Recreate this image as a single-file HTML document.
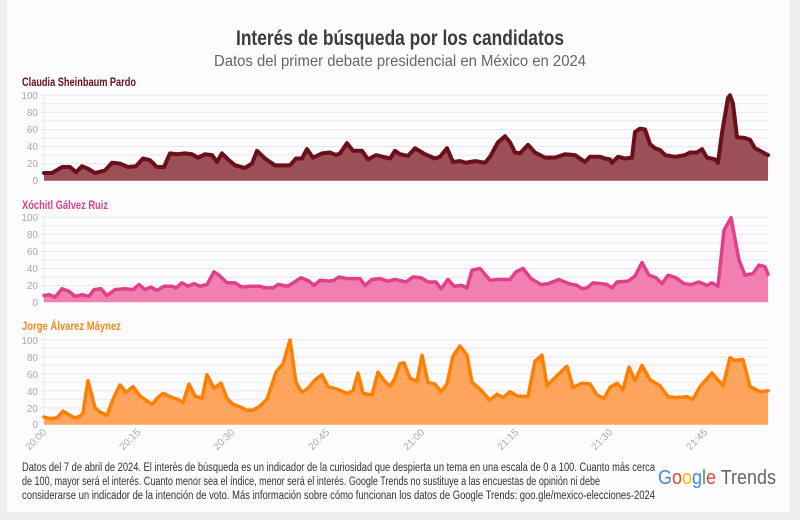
<!DOCTYPE html>
<html><head><meta charset="utf-8"><style>
html,body{margin:0;padding:0;background:#efeef0;}
svg{display:block;font-family:"Liberation Sans Narrow","Liberation Sans",sans-serif;}
</style></head><body>
<svg width="800" height="520" viewBox="0 0 800 520" xmlns="http://www.w3.org/2000/svg">
<rect x="0" y="0" width="800" height="520" fill="#efeef0"/>
<rect x="7" y="0" width="783" height="512" fill="#fcfbfd"/>
<text x="400" y="45" text-anchor="middle" font-size="21" font-weight="bold" fill="#3c3c3c" textLength="328" lengthAdjust="spacingAndGlyphs">Interés de búsqueda por los candidatos</text>
<text x="400" y="66" text-anchor="middle" font-size="16" fill="#666" textLength="372" lengthAdjust="spacingAndGlyphs">Datos del primer debate presidencial en México en 2024</text>

<text x="22" y="86" font-size="11.5" font-weight="bold" fill="#6b0f1a" textLength="114" lengthAdjust="spacingAndGlyphs">Claudia Sheinbaum Pardo</text>
<text x="22" y="209" font-size="11.5" font-weight="bold" fill="#e0408a" textLength="86" lengthAdjust="spacingAndGlyphs">Xóchitl Gálvez Ruiz</text>
<text x="22" y="330" font-size="11.5" font-weight="bold" fill="#f28a1e" textLength="99" lengthAdjust="spacingAndGlyphs">Jorge Álvarez Máynez</text>

<g id="grids" stroke="#e9e7ec" stroke-width="1">
<g id="g1">
<line x1="40" x2="768" y1="95.3" y2="95.3"/><line x1="40" x2="768" y1="103.8" y2="103.8"/><line x1="40" x2="768" y1="112.4" y2="112.4"/><line x1="40" x2="768" y1="120.9" y2="120.9"/><line x1="40" x2="768" y1="129.5" y2="129.5"/><line x1="40" x2="768" y1="138" y2="138"/><line x1="40" x2="768" y1="146.5" y2="146.5"/><line x1="40" x2="768" y1="155.1" y2="155.1"/><line x1="40" x2="768" y1="163.6" y2="163.6"/><line x1="40" x2="768" y1="172.2" y2="172.2"/>
</g>
<use href="#g1" y="122"/>
<use href="#g1" y="244.3"/>
<line x1="44" x2="44" y1="94" y2="181" />
<line x1="44" x2="44" y1="216" y2="303" />
<line x1="44" x2="44" y1="338" y2="425" />
</g>

<g font-size="10" fill="#aaa" text-anchor="end">
<text x="38" y="99">100</text><text x="38" y="116">80</text><text x="38" y="133">60</text><text x="38" y="150">40</text><text x="38" y="167">20</text><text x="38" y="184">0</text>
<text x="38" y="221">100</text><text x="38" y="238">80</text><text x="38" y="255">60</text><text x="38" y="272">40</text><text x="38" y="289">20</text><text x="38" y="306">0</text>
<text x="38" y="344">100</text><text x="38" y="361">80</text><text x="38" y="378">60</text><text x="38" y="395">40</text><text x="38" y="412">20</text><text x="38" y="428">0</text>
</g>

<g transform="translate(0,180.7) scale(1,-0.854)">
<polygon fill="#9b4f57" points="44,0 44,9 52,9 62,16 70,16 76,10 82,17 88,14 95,9 105,12 112,21 120,20 128,16 136,17 143,26 150,24 157,16 164,16 170,32 177,31 185,32 192,31 198,27 205,31 212,30 217,22 222,32 228,25 235,18 245,15 252,20 257,35 265,26 275,18 290,18 296,26 302,26 307,37 313,27 322,32 330,33 336,30 340,32 347,44 353,35 362,35 368,25 376,30 390,26 395,35 400,31 408,29 415,38 425,31 435,26 440,28 447,38 453,22 460,23 466,21 475,23 485,21 490,28 498,45 505,52 510,45 515,33 520,32 528,42 535,33 545,27 555,27 565,31 575,30 580,26 585,22 590,28 600,28 605,26 610,25 612,21 618,28 625,26 632,27 635,57 640,61 645,60 650,43 655,38 660,36 665,30 675,28 685,30 690,33 697,33 702,37 707,27 715,25 718,21 722,56 728,97 730,100 733,90 737,51 745,50 750,48 755,38 760,35 768,30 768,0"/>
<polyline fill="none" stroke="#6b0f1a" stroke-width="4" vector-effect="non-scaling-stroke" stroke-linejoin="round" stroke-linecap="round" points="44,9 52,9 62,16 70,16 76,10 82,17 88,14 95,9 105,12 112,21 120,20 128,16 136,17 143,26 150,24 157,16 164,16 170,32 177,31 185,32 192,31 198,27 205,31 212,30 217,22 222,32 228,25 235,18 245,15 252,20 257,35 265,26 275,18 290,18 296,26 302,26 307,37 313,27 322,32 330,33 336,30 340,32 347,44 353,35 362,35 368,25 376,30 390,26 395,35 400,31 408,29 415,38 425,31 435,26 440,28 447,38 453,22 460,23 466,21 475,23 485,21 490,28 498,45 505,52 510,45 515,33 520,32 528,42 535,33 545,27 555,27 565,31 575,30 580,26 585,22 590,28 600,28 605,26 610,25 612,21 618,28 625,26 632,27 635,57 640,61 645,60 650,43 655,38 660,36 665,30 675,28 685,30 690,33 697,33 702,37 707,27 715,25 718,21 722,56 728,97 730,100 733,90 737,51 745,50 750,48 755,38 760,35 768,30"/>
</g>

<g transform="translate(0,302.3) scale(1,-0.846)">
<polygon fill="#f27fb2" points="44,0 44,8 49,9 55,6 62,16 69,13 75,7 82,9 89,7 94,15 101,16 107,8 115,15 125,16 133,15 139,21 145,15 151,18 157,14 164,19 172,19 176,17 182,23 188,19 194,22 200,19 207,21 214,36 219,32 227,23 235,23 242,18 250,19 260,19 265,17 273,17 278,21 288,19 301,29 309,25 314,20 320,26 329,25 334,26 339,30 347,28 360,28 365,20 372,27 380,28 388,25 395,27 406,24 413,30 421,29 428,24 436,24 441,16 448,27 454,19 462,20 467,17 472,38 480,40 490,26 497,27 510,27 516,36 523,40 531,28 541,21 548,22 559,27 569,22 577,20 582,16 587,17 593,23 602,22 607,21 612,17 617,24 628,25 635,31 642,47 649,32 656,29 662,22 668,32 676,29 684,22 691,21 699,24 707,20 712,23 718,19 724,85 731,100 739,50 745,32 753,34 759,44 765,42 768,33 768,0"/>
<polyline fill="none" stroke="#e0408a" stroke-width="3.5" vector-effect="non-scaling-stroke" stroke-linejoin="round" stroke-linecap="round" points="44,8 49,9 55,6 62,16 69,13 75,7 82,9 89,7 94,15 101,16 107,8 115,15 125,16 133,15 139,21 145,15 151,18 157,14 164,19 172,19 176,17 182,23 188,19 194,22 200,19 207,21 214,36 219,32 227,23 235,23 242,18 250,19 260,19 265,17 273,17 278,21 288,19 301,29 309,25 314,20 320,26 329,25 334,26 339,30 347,28 360,28 365,20 372,27 380,28 388,25 395,27 406,24 413,30 421,29 428,24 436,24 441,16 448,27 454,19 462,20 467,17 472,38 480,40 490,26 497,27 510,27 516,36 523,40 531,28 541,21 548,22 559,27 569,22 577,20 582,16 587,17 593,23 602,22 607,21 612,17 617,24 628,25 635,31 642,47 649,32 656,29 662,22 668,32 676,29 684,22 691,21 699,24 707,20 712,23 718,19 724,85 731,100 739,50 745,32 753,34 759,44 765,42 768,33"/>
</g>

<g transform="translate(0,424.7) scale(1,-0.847)">
<polygon fill="#fea45c" points="44,0 44,9 50,7 57,8 63,16 70,11 75,8 80,10 83,14 88,52 95,20 100,15 107,11 113,30 120,47 126,38 133,45 140,34 147,28 152,24 157,31 163,37 172,32 178,30 183,26 189,48 195,34 202,31 207,59 214,43 221,49 227,31 233,24 240,21 247,17 253,17 260,22 267,30 276,62 283,72 290,100 296,50 302,38 308,43 315,53 322,59 328,45 337,42 347,37 353,40 358,61 363,37 372,35 378,62 385,51 390,45 395,55 400,72 404,73 410,55 417,51 422,82 428,50 435,48 441,39 447,48 453,81 460,93 467,82 472,50 480,42 490,29 497,36 503,32 510,39 517,34 528,33 535,75 542,82 547,46 557,58 567,69 573,44 582,49 590,48 597,35 604,31 610,44 617,49 623,41 629,68 635,52 642,70 650,53 660,46 668,33 677,32 687,33 693,30 700,45 712,61 723,46 730,79 735,76 743,77 750,45 760,39 768,40 768,0"/>
<polyline fill="none" stroke="#ff8000" stroke-width="3.5" vector-effect="non-scaling-stroke" stroke-linejoin="round" stroke-linecap="round" points="44,9 50,7 57,8 63,16 70,11 75,8 80,10 83,14 88,52 95,20 100,15 107,11 113,30 120,47 126,38 133,45 140,34 147,28 152,24 157,31 163,37 172,32 178,30 183,26 189,48 195,34 202,31 207,59 214,43 221,49 227,31 233,24 240,21 247,17 253,17 260,22 267,30 276,62 283,72 290,100 296,50 302,38 308,43 315,53 322,59 328,45 337,42 347,37 353,40 358,61 363,37 372,35 378,62 385,51 390,45 395,55 400,72 404,73 410,55 417,51 422,82 428,50 435,48 441,39 447,48 453,81 460,93 467,82 472,50 480,42 490,29 497,36 503,32 510,39 517,34 528,33 535,75 542,82 547,46 557,58 567,69 573,44 582,49 590,48 597,35 604,31 610,44 617,49 623,41 629,68 635,52 642,70 650,53 660,46 668,33 677,32 687,33 693,30 700,45 712,61 723,46 730,79 735,76 743,77 750,45 760,39 768,40"/>
</g>

<g font-size="10" fill="#aaa" text-anchor="end">
<text transform="translate(47,433) rotate(-45)">20:00</text>
<text transform="translate(141,433) rotate(-45)">20:15</text>
<text transform="translate(235,433) rotate(-45)">20:30</text>
<text transform="translate(330,433) rotate(-45)">20:45</text>
<text transform="translate(425,433) rotate(-45)">21:00</text>
<text transform="translate(519,433) rotate(-45)">21:15</text>
<text transform="translate(613,433) rotate(-45)">21:30</text>
<text transform="translate(708,433) rotate(-45)">21:45</text>
</g>

<g font-size="11.5" fill="#333">
<text x="22" y="471" textLength="633" lengthAdjust="spacingAndGlyphs">Datos del 7 de abril de 2024. El interés de búsqueda es un indicador de la curiosidad que despierta un tema en una escala de 0 a 100. Cuanto más cerca</text>
<text x="22" y="485" textLength="578" lengthAdjust="spacingAndGlyphs">de 100, mayor será el interés. Cuanto menor sea el índice, menor será el interés. Google Trends no sustituye a las encuestas de opinión ni debe</text>
<text x="22" y="499" textLength="633" lengthAdjust="spacingAndGlyphs">considerarse un indicador de la intención de voto. Más información sobre cómo funcionan los datos de Google Trends: goo.gle/mexico-elecciones-2024</text>
</g>
<text x="658" y="484" font-family="Liberation Sans, sans-serif" font-size="20" textLength="118" lengthAdjust="spacingAndGlyphs"><tspan fill="#4285f4">G</tspan><tspan fill="#ea4335">o</tspan><tspan fill="#fbbc05">o</tspan><tspan fill="#4285f4">g</tspan><tspan fill="#34a853">l</tspan><tspan fill="#ea4335">e</tspan><tspan fill="#666"> Trends</tspan></text>
</svg>
</body></html>
